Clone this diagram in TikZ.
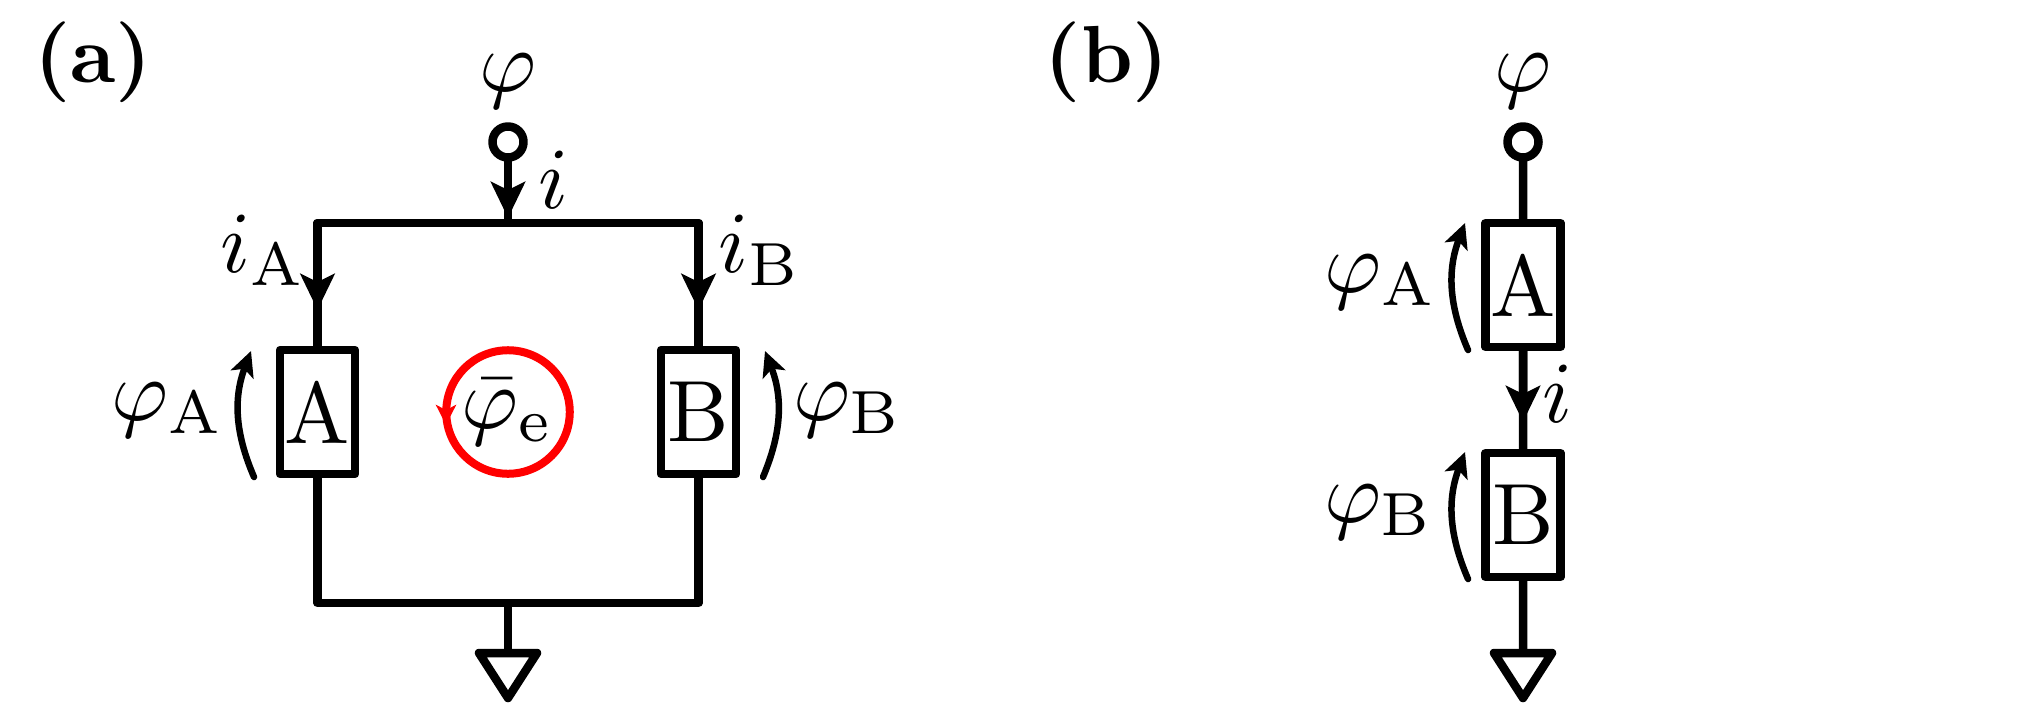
\documentclass[tikz,border=0pt]{standalone}
\usepackage{fix-cm}
\usepackage{tikz}
\usetikzlibrary{arrows.meta}
\newcommand{\gndsym}[1]{\draw[wire] (#1) +(-29,0) -- +(29,0) -- +(0,45) -- cycle;}

\begin{document}
\begin{tikzpicture}[x=1pt,y=-1pt]
			\tikzstyle{wire}=[line width=8.5pt,line join=round]
			\tikzstyle{cur}=[-{Stealth[length=36pt,width=34pt,inset=8pt]}]
			\tikzstyle{volt}=[line width=6.5pt,line cap=round,-{Stealth[length=25pt,width=24pt,inset=6pt]}]
			\tikzstyle{elem}=[rectangle,draw,wire,scale=8.7,minimum width=8.62pt,minimum height=14.25pt,inner sep=0pt,outer sep=0pt]
			\tikzstyle{term}=[circle,draw,wire,fill=white,minimum size=31pt,inner sep=0pt,outer sep=0pt]
			\tikzstyle{lbl}=[inner sep=0pt,scale=8.7]
			\tikzstyle{tag}=[inner sep=0pt,scale=8.1,font=\bfseries]
			\useasboundingbox (0,0) rectangle (2031,706);

			\node[tag] (taga) at (93,62) {(a)};
			\coordinate (topa) at (508,223);
			\coordinate (bota) at (508,603);
			\coordinate (gnda) at (508,653);
			\coordinate (tipi) at (508,218);
			\coordinate (tipA) at (317.5,310);
			\coordinate (tipB) at (698.5,310);
			\node[elem] (boxA) at (317.5,412) {A};
			\node[elem] (boxB) at (698.5,412) {B};
			\draw[wire] (boxA) |- (topa) -| (boxB);
			\draw[wire] (boxA) |- (bota) -| (boxB);
			\draw[wire] (bota) -- (gnda);
			\gndsym{gnda}
			\node[term] (terma) at (508,142) {};
			\draw[wire] (terma) -- (topa);
			\draw[wire,cur] (terma) -- (tipi);
			\draw[wire,cur] (topa) -| (tipA);
			\draw[wire,cur] (topa) -| (tipB);
			\node[circle,draw=red,line width=8pt,scale=8.7,minimum size=14.2pt,inner sep=0pt,outer sep=0pt] (loop) at (508,412) {$\bar{\varphi}_{\mathrm{e}}$};
			\coordinate (looptip) at (446,425);
			\draw[red,line width=4pt,-{Stealth[length=20pt,width=20pt,inset=5pt]}] (446,405) -- (looptip);
			\node[lbl] (phia) at (508,81) {$\varphi$};
			\node[lbl] (ia) at (553,180) {$i$};
			\node[lbl] (iA) at (263,250) {$i_{\mathrm{A}}$};
			\node[lbl] (iB) at (760,250) {$i_{\mathrm{B}}$};
			\node[lbl] (phiA) at (168,410) {$\varphi_{\mathrm{A}}$};
			\node[lbl] (phiB) at (848,410) {$\varphi_{\mathrm{B}}$};
			\coordinate (vA0) at (254,477);
			\coordinate (vA1) at (251,351);
			\coordinate (vB0) at (763,477);
			\coordinate (vB1) at (765,351);
			\draw[volt,bend left=22] (vA0) to (vA1);
			\draw[volt,bend right=22] (vB0) to (vB1);

			\node[tag] (tagb) at (1107,62) {(b)};
			\node[term] (termb) at (1523,142) {};
			\node[elem] (sboxA) at (1523,285) {A};
			\node[elem] (sboxB) at (1523,515) {B};
			\coordinate (gndb) at (1523,653);
			\coordinate (tips) at (1523,422);
			\draw[wire] (termb) -- (sboxA);
			\draw[wire] (sboxA) -- (sboxB);
			\draw[wire,cur] (sboxA) -- (tips);
			\draw[wire] (sboxB) -- (gndb);
			\gndsym{gndb}
			\node[lbl] (phib) at (1523,81) {$\varphi$};
			\node[lbl] (ib) at (1557,394) {$i$};
			\node[lbl] (sphiA) at (1381,282) {$\varphi_{\mathrm{A}}$};
			\node[lbl] (sphiB) at (1379,512) {$\varphi_{\mathrm{B}}$};
			\coordinate (wA0) at (1468,350);
			\coordinate (wA1) at (1465,223);
			\coordinate (wB0) at (1468,579);
			\coordinate (wB1) at (1465,452);
			\draw[volt,bend left=22] (wA0) to (wA1);
			\draw[volt,bend left=22] (wB0) to (wB1);
\end{tikzpicture}
\end{document}
